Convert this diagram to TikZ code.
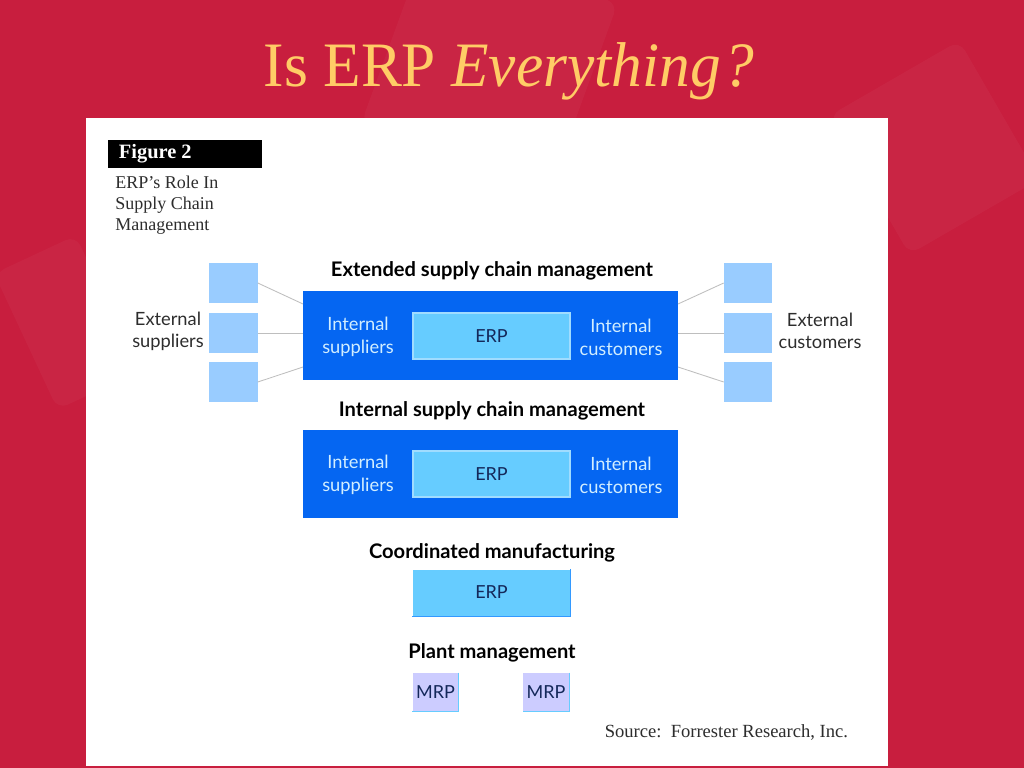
\documentclass[tikz,border=0pt]{standalone}
\usepackage{fontspec}
\setmainfont{Liberation Serif}
\setsansfont{Lato}
\usetikzlibrary{positioning}
\definecolor{slidered}{RGB}{200,30,62}
\definecolor{titlegold}{RGB}{255,204,102}
\definecolor{chainblue}{RGB}{5,102,242}
\definecolor{erpblue}{RGB}{102,204,255}
\definecolor{erpedge}{RGB}{160,220,255}
\definecolor{erpdark}{RGB}{51,153,255}
\definecolor{extblue}{RGB}{153,204,255}
\definecolor{mrplilac}{RGB}{204,204,255}
\definecolor{navytext}{RGB}{20,40,90}
\definecolor{paletext}{RGB}{210,238,255}
\definecolor{greyline}{RGB}{190,190,190}
\definecolor{darktext}{RGB}{45,45,45}

\begin{document}
\begin{tikzpicture}[x=0.025cm,y=-0.025cm]
    \tikzstyle{bignode} = [fill=chainblue, minimum width=9.375cm, minimum height=2.2cm, inner sep=0pt]
    \tikzstyle{erpnode} = [fill=erpblue, draw=erpedge, line width=1pt, minimum width=3.925cm, minimum height=1.15cm, inner sep=0pt, text=navytext, font=\sffamily\fontsize{12.8}{14}\selectfont]
    \tikzstyle{extnode} = [fill=extblue, minimum width=1.2cm, minimum height=0.975cm, inner sep=0pt]
    \tikzstyle{mrpnode} = [fill=mrplilac, minimum width=1.15cm, minimum height=0.95cm, inner sep=0pt, text=navytext, font=\sffamily\fontsize{12.8}{14}\selectfont]
    \tikzstyle{heading} = [font=\sffamily\bfseries\fontsize{14.3}{16}\selectfont, text=black]
    \tikzstyle{inlabel} = [align=center, text=paletext, font=\sffamily\fontsize{13}{16.4}\selectfont]
    \tikzstyle{outlabel} = [align=center, text=darktext, font=\sffamily\fontsize{13}{15.6}\selectfont]
    \tikzstyle{link} = [draw=greyline, line width=0.6pt]
    \useasboundingbox (0,0) rectangle (1024,768);
    \clip (0,0) rectangle (1024,768);
    % slide background
    \fill[slidered] (0,0) rectangle (1024,768);
    \fill[white, opacity=0.035, rounded corners=8pt, rotate around={-20:(480,60)}] (390,-40) rectangle (590,160);
    \fill[white, opacity=0.035, rounded corners=8pt, rotate around={30:(930,150)}] (860,70) rectangle (1010,230);
    \fill[white, opacity=0.03, rounded corners=8pt, rotate around={25:(60,320)}] (20,250) rectangle (110,400);
    \node[text=titlegold, font=\fontsize{45}{54}\selectfont, anchor=base] (title) at (509,87) {\scalebox{0.97}[1]{Is ERP \textit{Everything}\kern2pt\textit{?}}};
    \fill[white] (86,118) rectangle (888,766);
    % figure caption
    \node[fill=black, minimum width=3.85cm, minimum height=0.7cm, inner sep=0pt] (figbox) at (185,154) {};
    \node[text=white, font=\bfseries\fontsize{14.5}{16}\selectfont, anchor=west] (figtext) at (114,154) {Figure 2};
    \node[text=darktext, align=left, anchor=north west, inner sep=0pt, font=\fontsize{12.8}{15}\selectfont] (caption) at (115,176) {ERP's Role In\\Supply Chain\\Management};
    % extended supply chain
    \node[heading] (exthead) at (492,271) {Extended supply chain management};
    \node[bignode] (ext) at (490.5,335.5) {};
    \node[erpnode] (erp1) at (491.5,336) {ERP};
    \node[inlabel] (intsup1) at (358,337) {Internal\\suppliers};
    \node[inlabel] (intcus1) at (621,337) {Internal\\customers};
    \node[extnode] (sup1) at (233.5,283) {};
    \node[extnode] (sup2) at (233.5,333) {};
    \node[extnode] (sup3) at (233.5,382) {};
    \node[extnode] (cus1) at (748,283) {};
    \node[extnode] (cus2) at (748,333) {};
    \node[extnode] (cus3) at (748,382) {};
    \node[outlabel] (extsup) at (168,331) {External\\suppliers};
    \node[outlabel] (extcus) at (820,331) {External\\customers};
    \coordinate (ls1) at (303,304);
    \coordinate (ls3) at (303,367);
    \coordinate (rc1) at (678,304);
    \coordinate (rc3) at (678,367);
    \draw[link] (sup1.east) -- (ls1);
    \draw[link] (sup2.east) -- (ext.west |- sup2.east);
    \draw[link] (sup3.east) -- (ls3);
    \draw[link] (cus1.west) -- (rc1);
    \draw[link] (cus2.west) -- (ext.east |- cus2.west);
    \draw[link] (cus3.west) -- (rc3);
    % internal supply chain
    \node[heading] (inthead) at (492,411) {Internal supply chain management};
    \node[bignode] (int) at (490.5,474) {};
    \node[erpnode] (erp2) at (491.5,474) {ERP};
    \node[inlabel] (intsup2) at (358,475) {Internal\\suppliers};
    \node[inlabel] (intcus2) at (621,475) {Internal\\customers};
    % coordinated manufacturing
    \node[heading] (coordhead) at (492,553) {Coordinated manufacturing};
    \node[erpnode, draw=none] (erp3) at (491.5,592.5) {ERP};
    \draw[erpdark, line width=1pt] (erp3.north east) -- (erp3.south east) -- (erp3.south west);
    % plant management
    \node[heading] (planthead) at (492,653) {Plant management};
    \node[mrpnode] (mrp1) at (435.5,692) {MRP};
    \node[mrpnode] (mrp2) at (546,692) {MRP};
    \draw[erpblue, line width=1pt] (mrp1.north east) -- (mrp1.south east) -- (mrp1.south west);
    \draw[erpblue, line width=1pt] (mrp2.north east) -- (mrp2.south east) -- (mrp2.south west);
    \node[text=darktext, anchor=east, font=\fontsize{13.2}{15}\selectfont] (source) at (853,732) {Source:\ \ Forrester Research, Inc.};
\end{tikzpicture}
\end{document}
